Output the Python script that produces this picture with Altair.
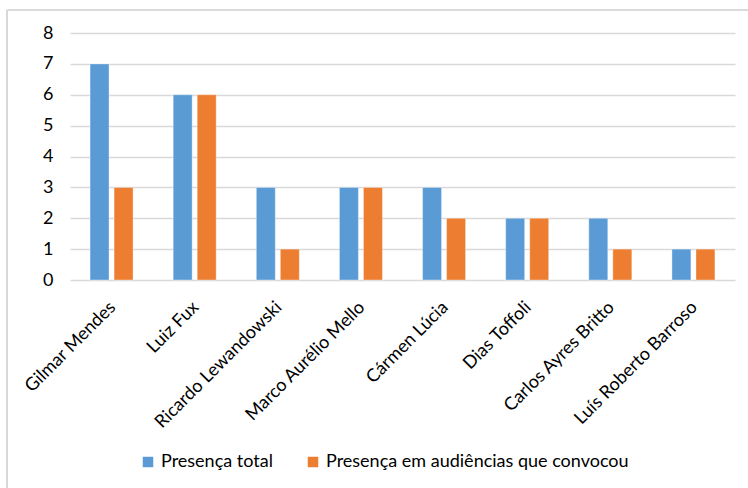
import altair as alt
import pandas as pd

# Ministers and their attendance counts
ministros = [
    "Gilmar Mendes", "Luiz Fux", "Ricardo Lewandowski", "Marco Aurélio Mello",
    "Cármen Lúcia", "Dias Toffoli", "Carlos Ayres Britto", "Luís Roberto Barroso",
]
presenca_total = [7, 6, 3, 3, 3, 2, 2, 1]
presenca_convocou = [3, 6, 1, 3, 2, 2, 1, 1]

series = ["Presença total", "Presença em audiências que convocou"]
colors = ["#5B9BD5", "#ED7D31"]

rows = []
for m, a, b in zip(ministros, presenca_total, presenca_convocou):
    rows.append({"ministro": m, "serie": series[0], "valor": a})
    rows.append({"ministro": m, "serie": series[1], "valor": b})
df = pd.DataFrame(rows)

FONT = "Lato"

bars = alt.Chart(df).mark_bar(stroke="white", strokeWidth=0.6, strokeOpacity=0.6).encode(
    x=alt.X(
        "ministro:N",
        sort=ministros,
        title=None,
        scale=alt.Scale(paddingInner=0, paddingOuter=0),
        axis=alt.Axis(
            labelAngle=-45,
            labelFontSize=18,
            labelColor="#000000",
            labelFont=FONT,
            ticks=False,
            domain=False,
            labelPadding=18,
            labelOffset=-5,
            labelLimit=300,
        ),
    ),
    xOffset=alt.XOffset(
        "serie:N",
        sort=series,
        scale=alt.Scale(paddingInner=0.21, paddingOuter=0.835),
    ),
    y=alt.Y(
        "valor:Q",
        title=None,
        scale=alt.Scale(domain=[0, 8], nice=False),
        axis=alt.Axis(
            values=list(range(0, 9)),
            labelFontSize=18,
            labelColor="#000000",
            labelFont=FONT,
            ticks=False,
            domain=False,
            labelPadding=17,
            gridColor="#D9D9D9",
            gridWidth=1.3,
        ),
    ),
    color=alt.Color(
        "serie:N",
        sort=series,
        scale=alt.Scale(domain=series, range=colors),
        legend=alt.Legend(
            title=None,
            orient="none",
            direction="horizontal",
            legendX=69,
            legendY=420,
            symbolType="square",
            symbolSize=110,
            symbolStrokeWidth=0,
            labelFontSize=18,
            labelFont=FONT,
            labelColor="#000000",
            columnPadding=31,
            labelLimit=400,
        ),
    ),
)

# Light outer frame of the chart
frame_top = alt.Chart(df).mark_rule(color="#D9D9D9", strokeWidth=1.2).encode(
    x=alt.value(-63), x2=alt.value(690), y=alt.value(-23)
)
frame_left = alt.Chart(df).mark_rule(color="#D9D9D9", strokeWidth=1.2).encode(
    x=alt.value(-63), y=alt.value(-23), y2=alt.value(460)
)

chart = (
    alt.layer(frame_top, frame_left, bars)
    .properties(
        width=665,
        height=247,
        autosize=alt.AutoSizeParams(type="none"),
        padding={"left": 70, "top": 33, "right": 13, "bottom": 208},
        background="white",
    )
    .configure_view(stroke=None)
)

chart.save("out.html", embed_options={"renderer": "svg", "actions": False})
